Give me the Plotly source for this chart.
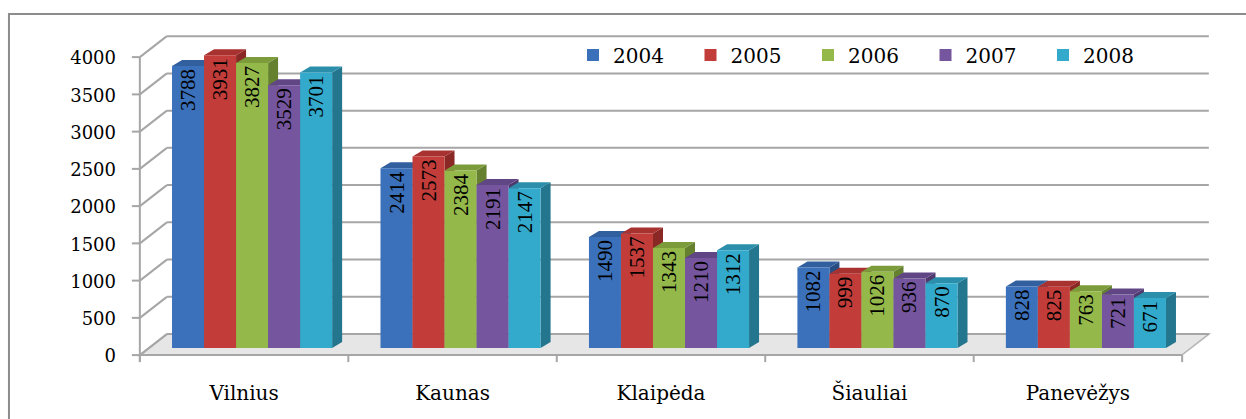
import plotly.graph_objects as go

# ---------------- data ----------------
cities = ["Vilnius", "Kaunas", "Klaipėda", "Šiauliai", "Panevėžys"]
years = ["2004", "2005", "2006", "2007", "2008"]
v2004 = [3788, 2414, 1490, 1082, 828]
v2005 = [3931, 2573, 1537, 999, 825]
v2006 = [3827, 2384, 1343, 1026, 763]
v2007 = [3529, 2191, 1210, 936, 721]
v2008 = [3701, 2147, 1312, 870, 671]
series = [v2004, v2005, v2006, v2007, v2008]
y_ticks = [0, 500, 1000, 1500, 2000, 2500, 3000, 3500, 4000]

# ---------------- styles ----------------
front_colors = ["#3b70ba", "#c23d39", "#94b84a", "#75569e", "#33aacb"]
top_colors = ["#32609f", "#a83230", "#7c9b3a", "#614686", "#2b8fab"]
side_colors = ["#284d82", "#8a2826", "#65802f", "#4f396d", "#23768d"]
grid_color = "#a6a6a6"

W, H = 1246, 419
PX_X = 208.4          # pixels per category
PX_Y = 0.0745         # pixels per unit
X_RANGE = [-0.6, 4.6]
Y_RANGE = [-200, 4230]
L_M = 127
B_M = 56
PW = (X_RANGE[1] - X_RANGE[0]) * PX_X
PH = (Y_RANGE[1] - Y_RANGE[0]) * PX_Y
R_M = W - L_M - PW
T_M = H - B_M - PH

BARGAP = 0.232
GROUP = 1 - BARGAP
BW = GROUP / len(series)
BW_PX = BW * PX_X
DX, DY = 10, 6                 # bar depth (px)
DY_D = DY / PX_Y
FX, FY = -8, -7                # front plane offset (px, up positive)
BX, BY = 19, 14                # back wall offset
WALL = len(cities) * PX_X


def pline(xa, ya, x0, y0, x1, y1, color=grid_color, width=2):
    return dict(type="line", xref="x", yref="y", xsizemode="pixel", ysizemode="pixel",
                xanchor=xa, yanchor=ya, x0=x0, y0=y0, x1=x1, y1=y1,
                line=dict(color=color, width=width), layer="below")


shapes = []
# floor
shapes.append(dict(type="path", xref="x", yref="y", xsizemode="pixel", ysizemode="pixel",
                   xanchor=-0.5, yanchor=0,
                   path=f"M {FX},{FY} L {FX + WALL},{FY} L {BX + WALL},{BY} L {BX},{BY} Z",
                   fillcolor="#e6e6e6", line=dict(color="#b4b4b4", width=1.5), layer="below"))
# back wall gridlines + diagonals + front ticks
for v in y_ticks:
    shapes.append(pline(-0.5, v, BX, BY, BX + WALL, BY))
    shapes.append(pline(-0.5, v, FX, FY, BX, BY))
    shapes.append(pline(-0.5, v, FX - 8, FY, FX, FY))
# front y axis line
shapes.append(pline(-0.5, 0, FX, FY - 7, FX, FY + y_ticks[-1] * PX_Y))
# front x axis line
shapes.append(pline(-0.5, 0, FX, FY, FX + WALL, FY))
# category boundary ticks
for k in range(len(cities) + 1):
    shapes.append(pline(k - 0.5, 0, FX, FY, FX, FY - 7))

# 3D faces of bars
for j, vals in enumerate(series):
    for i, v in enumerate(vals):
        xr = i - GROUP / 2 + (j + 1) * BW
        shapes.append(dict(type="path", xref="x", yref="y", xsizemode="pixel", xanchor=xr,
                           path=f"M 0,0 L {DX},{DY_D} L {DX},{v + DY_D} L 0,{v} Z",
                           fillcolor=side_colors[j], line=dict(width=0), layer="below"))
        shapes.append(dict(type="path", xref="x", yref="y", xsizemode="pixel", xanchor=xr,
                           path=f"M {-BW_PX},{v} L 0,{v} L {DX},{v + DY_D} L {DX - BW_PX},{v + DY_D} Z",
                           fillcolor=top_colors[j], line=dict(width=0), layer="below"))

# outer frame
shapes.append(dict(type="rect", xref="paper", yref="paper",
                   x0=(9 - L_M) / PW, x1=(1262 - L_M) / PW,
                   y0=-(440 - (H - B_M)) / PH, y1=((H - B_M) - 14) / PH,
                   line=dict(color="#8c8c8c", width=2), fillcolor="rgba(0,0,0,0)", layer="below"))

fig = go.Figure()
for j, vals in enumerate(series):
    fig.add_trace(go.Bar(
        x=list(range(len(cities))), y=vals, name=years[j],
        marker=dict(color=front_colors[j], line=dict(width=0)),
        text=[str(v) for v in vals], textposition="inside", insidetextanchor="end",
        textangle=-90, constraintext="none",
        textfont=dict(family="Liberation Serif", size=21, color="black"),
        hoverinfo="skip", cliponaxis=False,
    ))

fig.update_layout(
    width=W, height=H,
    margin=dict(l=L_M, r=R_M, t=T_M, b=B_M, pad=0, autoexpand=False),
    barmode="group", bargap=BARGAP, bargroupgap=0,
    plot_bgcolor="white", paper_bgcolor="white",
    shapes=shapes,
    showlegend=True,
    legend=dict(orientation="h", xref="container", yref="container",
                x=573 / W, y=1 - 55 / H, xanchor="left", yanchor="middle",
                entrywidth=72.5, entrywidthmode="pixels",
                font=dict(family="DejaVu Serif", size=20, color="black"),
                bgcolor="rgba(0,0,0,0)", traceorder="normal"),
    xaxis=dict(range=X_RANGE, tickvals=list(range(len(cities))), ticktext=cities,
               showgrid=False, zeroline=False, showline=False, ticks="",
               tickfont=dict(family="DejaVu Serif", size=20, color="black"),
               ticklabelshift=-8, ticklabelstandoff=16, automargin=False, fixedrange=True),
    yaxis=dict(range=Y_RANGE, tickvals=y_ticks, showgrid=False, zeroline=False,
               showline=False, ticks="",
               tickfont=dict(family="DejaVu Serif", size=18, color="black"),
               ticklabelshift=8, ticklabelstandoff=10, automargin=False, fixedrange=True),
)

fig.write_html("out.html", config={"displayModeBar": False},
               post_script="document.body.style.margin='0px';")
